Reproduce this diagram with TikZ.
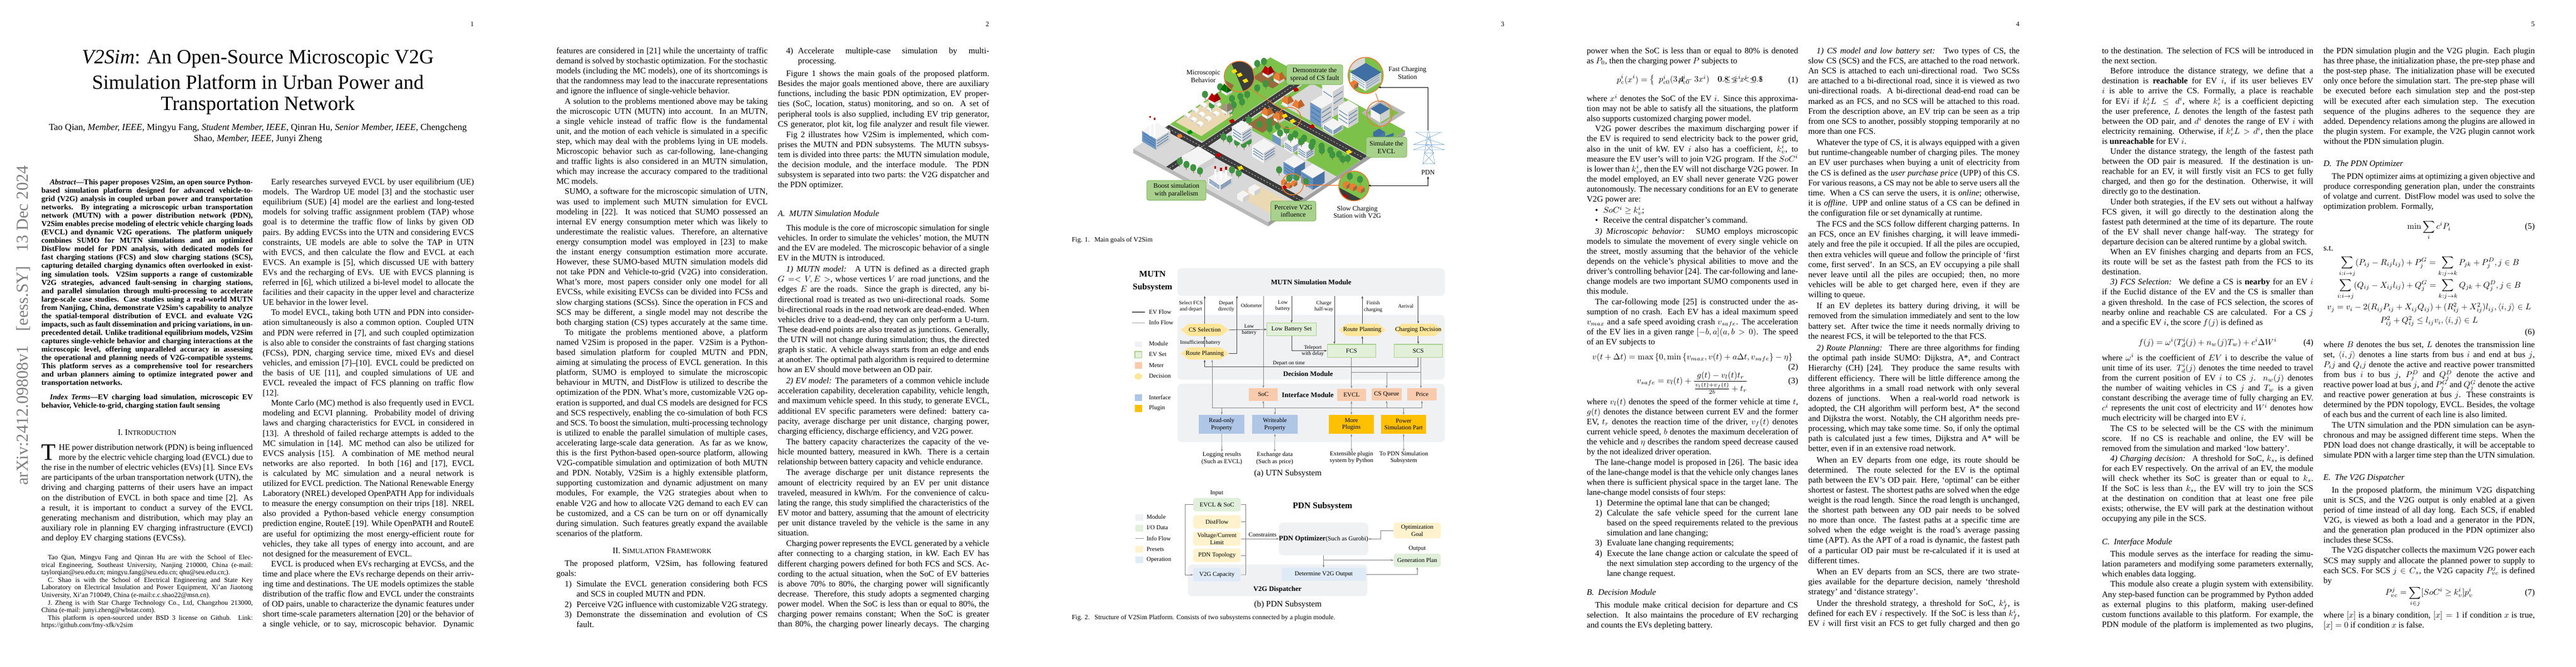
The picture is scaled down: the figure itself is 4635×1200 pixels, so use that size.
\documentclass[tikz,border=0pt]{standalone}
\usepackage[no-math]{fontspec}
\usepackage{amsmath}
\usetikzlibrary{arrows.meta,calc}
\setmainfont{Liberation Serif}
\hbadness=10000 \hfuzz=60pt \vfuzz=60pt \vbadness=10000 \overfullrule=0pt
\definecolor{panel}{HTML}{F0F1F3}
\definecolor{gfill}{HTML}{E2F0D9}
\definecolor{gline}{HTML}{A9D18E}
\definecolor{meter}{HTML}{F8CBAD}
\definecolor{deci}{HTML}{FFE699}
\definecolor{iface}{HTML}{AFC6E6}
\definecolor{plug}{HTML}{FFC000}
\definecolor{iogreen}{HTML}{E0EFD9}
\definecolor{preset}{HTML}{FFF2CC}
\definecolor{oper}{HTML}{DEEBF7}
\definecolor{goal}{HTML}{A9D18E}
\definecolor{goalb}{HTML}{70AD47}
\definecolor{orng}{HTML}{ED7D31}
\definecolor{grd}{HTML}{D8D8D8}
\definecolor{grdl}{HTML}{B8B8B8}
\definecolor{grdr}{HTML}{A0A0A0}
\definecolor{road}{HTML}{3C3C3C}
\definecolor{lawn}{HTML}{7CC24A}
\definecolor{lot}{HTML}{EBD9B4}
\definecolor{leaf}{HTML}{3E9440}
\definecolor{wall}{HTML}{F4F4F4}
\definecolor{walld}{HTML}{CFCFCF}
\definecolor{wblue}{HTML}{3F6FA3}
\definecolor{bwall}{HTML}{6E97C4}
\definecolor{bwalld}{HTML}{4C76A6}
\definecolor{tower}{HTML}{6FA3D6}
\definecolor{brownf}{HTML}{9A6A3C}
\definecolor{stampc}{HTML}{7F7F7F}
% text line macros
\newcommand\xj[1]{\hbox to\hsize{#1}}
\newcommand\xe[1]{\hbox to\hsize{#1\hfil}}
\newcommand\yj[1]{\hbox to\hsize{\hskip10pt #1}}
\newcommand\ye[1]{\hbox to\hsize{\hskip10pt #1\hfil}}
\newcommand\xh[2]{\hbox to\hsize{\hskip#1pt #2}}
\newcommand\xhe[2]{\hbox to\hsize{\hskip#1pt #2\hfil}}
\newcommand\xl[2]{\hbox to\hsize{\hskip10pt\hbox to14pt{#1\hfil}#2}}
\newcommand\xle[2]{\hbox to\hsize{\hskip10pt\hbox to14pt{#1\hfil}#2\hfil}}
\newcommand\xg[1]{\vskip #1\dimexpr0.2526pt\relax}
\newcommand\xq[2]{\hbox to\hsize{\rlap{\hbox to\hsize{\hfil #2}}\hfil$\displaystyle #1$\hfil}}
\newcommand\xc[1]{\hbox to\hsize{\hfil #1\hfil}}
\newcommand\colset{\hsize=251pt \baselineskip=11.946pt \lineskiplimit=-100pt \lineskip=0pt \parindent=0pt \parskip=0pt\relax}
% figure helpers
\newcommand\bx[7]{\pgfmathsetmacro\bxw{((#4)-(#2))*0.4}\pgfmathsetmacro\bxh{((#5)-(#3))*0.25258}%
  \node[#6,minimum width=\bxw pt,minimum height=\bxh pt,inner sep=0pt] (#1) at ({((#2)+(#4))/2},{((#3)+(#5))/2}) {#7};}
\newcommand\hx[5]{\fill[deci] (#2,#4) -- ({#2+24},{#4-29}) -- ({#3-24},{#4-29}) -- (#3,#4) -- ({#3-24},{#4+29}) -- ({#2+24},{#4+29}) -- cycle;
  \bx{#1}{#2}{#4-29}{#3}{#4+29}{lab7}{#5}}
\newcommand\bld[7]{%
 \fill[#6] ({#1-#3},{#2}) -- ({#1},{#2+.95*#3}) -- ({#1},{#2+.95*#3-#4}) -- ({#1-#3},{#2-#4}) -- cycle;
 \fill[#7] ({#1},{#2+.95*#3}) -- ({#1+#3},{#2}) -- ({#1+#3},{#2-#4}) -- ({#1},{#2+.95*#3-#4}) -- cycle;
 \fill[#5] ({#1-#3},{#2-#4}) -- ({#1},{#2+.95*#3-#4}) -- ({#1+#3},{#2-#4}) -- ({#1},{#2-.95*#3-#4}) -- cycle;}
\newcommand\win[5]{\foreach \ff in {.25,.5,.75}{
 \draw[#5,dash pattern=on 1.1pt off .7pt,line width=1pt] ({#1-.88*#3},{#2-#4*\ff}) -- ({#1-.08*#3},{#2+.84*#3-#4*\ff});
 \draw[#5,dash pattern=on 1.1pt off .7pt,line width=1pt] ({#1+.08*#3},{#2+.84*#3-#4*\ff}) -- ({#1+.88*#3},{#2-#4*\ff});}}
\newcommand\tr[2]{\draw[brownf,line width=.5pt] ({#1},{#2}) -- ({#1},{#2-12});
 \fill[leaf] ({#1},{#2-26}) ellipse (9 and 17);}
\newcommand\hs[3]{\bld{#1}{#2}{16}{14}{wall}{wall}{walld}
 \fill[#3] ({#1-19},{#2-14}) -- ({#1},{#2+2}) -- ({#1},{#2-30}) -- ({#1-8},{#2-42}) -- cycle;
 \fill[#3!80!black] ({#1},{#2+2}) -- ({#1+19},{#2-14}) -- ({#1+8},{#2-42}) -- ({#1},{#2-30}) -- cycle;}
\newcommand\car[3]{\fill[#3] ({#1-9},{#2-3}) -- ({#1+3},{#2-11}) -- ({#1+9},{#2+3}) -- ({#1-3},{#2+11}) -- cycle;}
\newcommand\ab[5]{\fill[#5] (#1,#2) -- (#3,#2) -- (#3,#4) -- (#1,#4) -- cycle;}
\tikzset{
 >={Stealth[length=3pt,width=2.3pt]},
 ev/.style={draw=black!72,line width=.55pt},
 info/.style={draw=black!48,line width=.45pt},
 pdnl/.style={draw=black!50,line width=.5pt},
 txt/.style={inner sep=0pt,outer sep=0pt,anchor=base west,font=\fontsize{10}{11.946}\selectfont},
 pnum/.style={inner sep=0pt,anchor=base east,font=\fontsize{8}{9}\selectfont},
 lab6/.style={font=\fontsize{6.3}{7.3}\selectfont,align=center,inner sep=0pt},
 lab7/.style={font=\fontsize{7.3}{8.4}\selectfont,align=center,inner sep=0pt},
 lab8/.style={font=\fontsize{8}{9.1}\selectfont,align=center,inner sep=0pt},
 bold8/.style={font=\fontsize{8.3}{10}\selectfont\bfseries,align=center,inner sep=0pt},
 bold10/.style={font=\fontsize{10.3}{12.3}\selectfont\bfseries,align=center,inner sep=0pt},
 cap8/.style={font=\fontsize{8}{9}\selectfont,anchor=west,inner sep=0pt},
 sub10/.style={font=\fontsize{10}{11}\selectfont,inner sep=0pt},
 pn/.style={fill=panel,rounded corners=5pt},
 gset/.style={lab7,fill=gfill,draw=gline,line width=.9pt},
 mtr/.style={lab7,fill=meter},
 ifc/.style={lab7,fill=iface},
 plg/.style={lab7,fill=plug},
 iog/.style={lab7,fill=iogreen,rounded corners=3pt},
 prs/.style={lab7,fill=preset,rounded corners=3pt},
 opr/.style={lab7,fill=oper},
 goalbox/.style={lab8,fill=goal,draw=goalb,line width=.5pt,rounded corners=2.5pt},
 mag/.style={draw=orng,line width=1pt},
}
\begin{document}
\begin{tikzpicture}[x=0.66pt,y=-0.66pt]
\useasboundingbox (0,0) rectangle (4635,1200);
\fill[white] (0,0) rectangle (4635,1200);
% ---------- page numbers
\node[pnum] (pg1) at (853,47) {1};
\node[pnum] (pg2) at (1780,47) {2};
\node[pnum] (pg3) at (2707,47) {3};
\node[pnum] (pg4) at (3634,47) {4};
\node[pnum] (pg5) at (4561,47) {5};
% ---------- stamp
\node[rotate=90,anchor=base,inner sep=0pt,text=stampc,font=\fontsize{20}{22}\selectfont] (stamp) at (50,586) {arXiv:2412.09808v1\hspace{.6em} [eess.SY]\hspace{.6em} 13 Dec 2024};
% ---------- page 1 title
\node[inner sep=0pt,font=\fontsize{24}{28}\selectfont] (t1) at (464,106) {\textit{V2Sim}: An Open-Source Microscopic V2G};
\node[inner sep=0pt,font=\fontsize{24}{28}\selectfont] (t2) at (464,148) {Simulation Platform in Urban Power and};
\node[inner sep=0pt,font=\fontsize{24}{28}\selectfont] (t3) at (464,190) {Transportation Network};
\node[inner sep=0pt,font=\fontsize{11}{13}\selectfont] (a1) at (464,231) {Tao Qian, \textit{Member, IEEE}, Mingyu Fang, \textit{Student Member, IEEE}, Qinran Hu, \textit{Senior Member, IEEE}, Chengcheng};
\node[inner sep=0pt,font=\fontsize{11}{13}\selectfont] (a2) at (464,251) {Shao, \textit{Member, IEEE}, Junyi Zheng};
% ---------- page 1 left
\node[txt,font=\fontsize{9}{10}\selectfont\bfseries] (p1abs) at (74.6,332.5) {\vtop{\colset\baselineskip=9.93pt
\hbox to\hsize{\hskip10pt\textit{Abstract}---This paper proposes V2Sim, an open source Python-}
\xj{based simulation platform designed for advanced vehicle-to-}
\xj{grid (V2G) analysis in coupled urban power and transportation}
\xj{networks. By integrating a microscopic urban transportation}
\xj{network (MUTN) with a power distribution network (PDN),}
\xj{V2Sim enables precise modeling of electric vehicle charging loads}
\xj{(EVCL) and dynamic V2G operations. The platform uniquely}
\xj{combines SUMO for MUTN simulations and an optimized}
\xj{DistFlow model for PDN analysis, with dedicated models for}
\xj{fast charging stations (FCS) and slow charging stations (SCS),}
\xj{capturing detailed charging dynamics often overlooked in exist-}
\xj{ing simulation tools. V2Sim supports a range of customizable}
\xj{V2G strategies, advanced fault-sensing in charging stations,}
\xj{and parallel simulation through multi-processing to accelerate}
\xj{large-scale case studies. Case studies using a real-world MUTN}
\xj{from Nanjing, China, demonstrate V2Sim's capability to analyze}
\xj{the spatial-temporal distribution of EVCL and evaluate V2G}
\xj{impacts, such as fault dissemination and pricing variations, in un-}
\xj{precedented detail. Unlike traditional equilibrium models, V2Sim}
\xj{captures single-vehicle behavior and charging interactions at the}
\xj{microscopic level, offering unparalleled accuracy in assessing}
\xj{the operational and planning needs of V2G-compatible systems.}
\xj{This platform serves as a comprehensive tool for researchers}
\xj{and urban planners aiming to optimize integrated power and}
\xe{transportation networks.}
}};
\node[txt,font=\fontsize{9}{10}\selectfont\bfseries] (p1idx) at (74.6,719) {\vtop{\colset\baselineskip=9.93pt
\yj{\textit{Index Terms}---EV charging load simulation, microscopic EV}
\xe{behavior, Vehicle-to-grid, charging station fault sensing}
}};
\node[txt] (p1sec) at (74.6,783.5) {\vtop{\colset\xc{I. I{\fontsize{8}{9}\selectfont NTRODUCTION}}}};
\node[txt] (p1body) at (74.6,810.5) {\vtop{\colset
\hbox to\hsize{\rlap{\raisebox{-11.95pt}{\fontsize{28}{28}\selectfont T}}\hskip20.6pt HE power distribution network (PDN) is being influenced}
\xh{20.6}{more by the electric vehicle charging load (EVCL) due to}
\xj{the rise in the number of electric vehicles (EVs) [1]. Since EVs}
\xj{are participants of the urban transportation network (UTN), the}
\xj{driving and charging patterns of their users have an impact}
\xj{on the distribution of EVCL in both space and time [2]. As}
\xj{a result, it is important to conduct a survey of the EVCL}
\xj{generating mechanism and distribution, which may play an}
\xj{auxiliary role in planning EV charging infrastructure (EVCI)}
\xe{and deploy EV charging stations (EVCSs).}
}};
\node[txt,font=\fontsize{8}{9}\selectfont] (p1fn) at (74.6,1007.5) {\vtop{\colset\baselineskip=8.97pt
\xh{7.6}{Tao Qian, Mingyu Fang and Qinran Hu are with the School of Elec-}
\xj{trical Engineering, Southeast University, Nanjing 210000, China (e-mail:}
\xe{taylorqian@seu.edu.cn; mingyu.fang@seu.edu.cn; qhu@seu.edu.cn;).}
\xh{7.6}{C. Shao is with the School of Electrical Engineering and State Key}
\xj{Laboratory on Electrical Insulation and Power Equipment, Xi'an Jiaotong}
\xe{University, Xi'an 710049, China (e-mail:c.c.shao22@msn.cn).}
\xh{7.6}{J. Zheng is with Star Charge Technology Co., Ltd, Changzhou 213000,}
\xe{China (e-mail: junyi.zheng@wbstar.com).}
\xh{7.6}{This platform is open-sourced under BSD 3 license on Github. Link:}
\xe{https://github.com/fmy-xfk/v2sim}
}};
% ---------- page 1 right
\node[txt] (p1r) at (472.6,332.5) {\vtop{\colset
\yj{Early researches surveyed EVCL by user equilibrium (UE)}
\xj{models. The Wardrop UE model [3] and the stochastic user}
\xj{equilibrium (SUE) [4] model are the earliest and long-tested}
\xj{models for solving traffic assignment problem (TAP) whose}
\xj{goal is to determine the traffic flow of links by given OD}
\xj{pairs. By adding EVCSs into the UTN and considering EVCS}
\xj{constraints, UE models are able to solve the TAP in UTN}
\xj{with EVCS, and then calculate the flow and EVCL at each}
\xj{EVCS. An example is [5], which discussed UE with battery}
\xj{EVs and the recharging of EVs. UE with EVCS planning is}
\xj{referred in [6], which utilized a bi-level model to allocate the}
\xj{facilities and their capacity in the upper level and characterize}
\xe{UE behavior in the lower level.}
\yj{To model EVCL, taking both UTN and PDN into consider-}
\xj{ation simultaneously is also a common option. Coupled UTN}
\xj{and PDN were referred in [7], and such coupled optimization}
\xj{is also able to consider the constraints of fast charging stations}
\xj{(FCSs), PDN, charging service time, mixed EVs and diesel}
\xj{vehicles, and emission [7]--[10]. EVCL could be predicted on}
\xj{the basis of UE [11], and coupled simulations of UE and}
\xj{EVCL revealed the impact of FCS planning on traffic flow}
\xe{[12].}
\yj{Monte Carlo (MC) method is also frequently used in EVCL}
\xj{modeling and ECVI planning. Probability model of driving}
\xj{laws and charging characteristics for EVCL in considered in}
\xj{[13]. A threshold of failed recharge attempts is added to the}
\xj{MC simulation in [14]. MC method can also be utilized for}
\xj{EVCS analysis [15]. A combination of ME method neural}
\xj{networks are also reported. In both [16] and [17], EVCL}
\xj{is calculated by MC simulation and a neural network is}
\xj{utilized for EVCL prediction. The National Renewable Energy}
\xj{Laboratory (NREL) developed OpenPATH App for individuals}
\xj{to measure the energy consumption on their trips [18]. NREL}
\xj{also provided a Python-based vehicle energy consumption}
\xj{prediction engine, RouteE [19]. While OpenPATH and RouteE}
\xj{are useful for optimizing the most energy-efficient route for}
\xj{vehicles, they take all types of energy into account, and are}
\xe{not designed for the measurement of EVCL.}
\yj{EVCL is produced when EVs recharging at EVCSs, and the}
\xj{time and place where the EVs recharge depends on their arriv-}
\xj{ing time and destinations. The UE models optimizes the stable}
\xj{distribution of the traffic flow and EVCL under the constraints}
\xj{of OD pairs, unable to characterize the dynamic features under}
\xj{short time-scale parameters alternation [20] or the behavior of}
\xj{a single vehicle, or to say, microscopic behavior. Dynamic}
}};
% ---------- page 2 left
\node[txt] (p2l) at (1001,96.5) {\vtop{\colset
\xj{features are considered in [21] while the uncertainty of traffic}
\xj{demand is solved by stochastic optimization. For the stochastic}
\xj{models (including the MC models), one of its shortcomings is}
\xj{that the randomness may lead to the inaccurate representations}
\xe{and ignore the influence of single-vehicle behavior.}
\yj{A solution to the problems mentioned above may be taking}
\xj{the microscopic UTN (MUTN) into account. In an MUTN,}
\xj{a single vehicle instead of traffic flow is the fundamental}
\xj{unit, and the motion of each vehicle is simulated in a specific}
\xj{step, which may deal with the problems lying in UE models.}
\xj{Microscopic behavior such as car-following, lane-changing}
\xj{and traffic lights is also considered in an MUTN simulation,}
\xj{which may increase the accuracy compared to the traditional}
\xe{MC models.}
\yj{SUMO, a software for the microscopic simulation of UTN,}
\xj{was used to implement such MUTN simulation for EVCL}
\xj{modeling in [22]. It was noticed that SUMO possessed an}
\xj{internal EV energy consumption meter which was likely to}
\xj{underestimate the realistic values. Therefore, an alternative}
\xj{energy consumption model was employed in [23] to make}
\xj{the instant energy consumption estimation more accurate.}
\xj{However, these SUMO-based MUTN simulation models did}
\xj{not take PDN and Vehicle-to-grid (V2G) into consideration.}
\xj{What's more, most papers consider only one model for all}
\xj{EVCSs, while exisiting EVCSs can be divided into FCSs and}
\xj{slow charging stations (SCSs). Since the operation in FCS and}
\xj{SCS may be different, a single model may not describe the}
\xj{both charging station (CS) types accurately at the same time.}
\yj{To mitigate the problems mentioned above, a platform}
\xj{named V2Sim is proposed in the paper. V2Sim is a Python-}
\xj{based simulation platform for coupled MUTN and PDN,}
\xj{aiming at simulating the process of EVCL generation. In this}
\xj{platform, SUMO is employed to simulate the microscopic}
\xj{behaviour in MUTN, and DistFlow is utilized to describe the}
\xj{optimization of the PDN. What's more, customizable V2G op-}
\xj{eration is supported, and dual CS models are designed for FCS}
\xj{and SCS respectively, enabling the co-simulation of both FCS}
\xj{and SCS. To boost the simulation, multi-processing technology}
\xj{is utilized to enable the parallel simulation of multiple cases,}
\xj{accelerating large-scale data generation. As far as we know,}
\xj{this is the first Python-based open-source platform, allowing}
\xj{V2G-compatible simulation and optimization of both MUTN}
\xj{and PDN. Notably, V2Sim is a highly extensible platform,}
\xj{supporting customization and dynamic adjustment on many}
\xj{modules, For example, the V2G strategies about when to}
\xj{enable V2G and how to allocate V2G demand to each EV can}
\xj{be customized, and a CS can be turn on or off dynamically}
\xj{during simulation. Such features greatly expand the available}
\xe{scenarios of the platform.}
\xg{35}\xc{II. S{\fontsize{8}{9}\selectfont IMULATION} F{\fontsize{8}{9}\selectfont RAMEWORK}}
\xg{11}\yj{The proposed platform, V2Sim, has following featured}
\xe{goals:}
\xg{4}\xl{1)}{Simulate the EVCL generation considering both FCS}
\xhe{24}{and SCS in coupled MUTN and PDN.}
\xl{2)}{Perceive V2G influence with customizable V2G strategy.}
\xl{3)}{Demonstrate the dissemination and evolution of CS}
\xhe{24}{fault.}
}};
% ---------- page 2 right
\node[txt] (p2r) at (1399.5,96.5) {\vtop{\colset
\xl{4)}{Accelerate multiple-case simulation by multi-}
\xhe{24}{processing.}
\xg{13}\yj{Figure 1 shows the main goals of the proposed platform.}
\xj{Besides the major goals mentioned above, there are auxiliary}
\xj{functions, including the basic PDN optimization, EV proper-}
\xj{ties (SoC, location, status) monitoring, and so on. A set of}
\xj{peripheral tools is also supplied, including EV trip generator,}
\xj{CS generator, plot kit, log file analyzer and result file viewer.}
\xg{2}\yj{Fig 2 illustrates how V2Sim is implemented, which com-}
\xj{prises the MUTN and PDN subsystems. The MUTN subsys-}
\xj{tem is divided into three parts: the MUTN simulation module,}
\xj{the decision module, and the interface module. The PDN}
\xj{subsystem is separated into two parts: the V2G dispatcher and}
\xe{the PDN optimizer.}
\xg{88}\xe{\textit{A. \ MUTN Simulation Module}}
\xg{21}\yj{This module is the core of microscopic simulation for single}
\xj{vehicles. In order to simulate the vehicles' motion, the MUTN}
\xj{and the EV are modeled. The microscopic behavior of a single}
\xe{EV in the MUTN is introduced.}
\xg{5}\yj{\textit{1) MUTN model:} \ A UTN is defined as a directed graph}
\xj{$G=<V,E>$, whose vertices $V$ are road junctions, and the}
\xj{edges $E$ are the roads. Since the graph is directed, any bi-}
\xj{directional road is treated as two uni-directional roads. Some}
\xj{bi-directional roads in the road network are dead-ended. When}
\xj{vehicles drive to a dead-end, they can only perform a U-turn.}
\xj{These dead-end points are also treated as junctions. Generally,}
\xj{the UTN will not change during simulation; thus, the directed}
\xj{graph is static. A vehicle always starts from an edge and ends}
\xj{at another. The optimal path algorithm is required to determine}
\xe{how an EV should move between an OD pair.}
\xg{5}\yj{\textit{2) EV model:} The parameters of a common vehicle include}
\xj{acceleration capability, deceleration capability, vehicle length,}
\xj{and maximum vehicle speed. In this study, to generate EVCL,}
\xj{additional EV specific parameters were defined: battery ca-}
\xj{pacity, average discharge per unit distance, charging power,}
\xe{charging efficiency, discharge efficiency, and V2G power.}
\xg{3}\yj{The battery capacity characterizes the capacity of the ve-}
\xj{hicle mounted battery, measured in kWh. There is a certain}
\xe{relationship between battery capacity and vehicle endurance.}
\xg{3}\yj{The average discharge per unit distance represents the}
\xj{amount of electricity required by an EV per unit distance}
\xj{traveled, measured in kWh/m. For the convenience of calcu-}
\xj{lating the range, this study simplified the characteristics of the}
\xj{EV motor and battery, assuming that the amount of electricity}
\xj{per unit distance traveled by the vehicle is the same in any}
\xe{situation.}
\xg{3}\yj{Charging power represents the EVCL generated by a vehicle}
\xj{after connecting to a charging station, in kW. Each EV has}
\xj{different charging powers defined for both FCS and SCS. Ac-}
\xj{cording to the actual situation, when the SoC of EV batteries}
\xj{is above 70\% to 80\%, the charging power will significantly}
\xj{decrease. Therefore, this study adopts a segmented charging}
\xj{power model. When the SoC is less than or equal to 80\%, the}
\xj{charging power remains constant; When the SoC is greater}
\xj{than 80\%, the charging power linearly decays. The charging}
}};
% ---------- page 4 left
\node[txt] (p4l) at (2855,96.5) {\vtop{\colset
\xj{power when the SoC is less than or equal to 80\% is denoted}
\xe{as $P_0$, then the charging power $P$ subjects to}
\xg{40}\xq{p_c^i(x^i)=\left\{\begin{array}{cc}p_{c0}^i & 0\le x^i<0.8\\ p_{c0}^i(3.4-3x^i) & 0.8\le x^i\le 1\end{array}\right.}{(1)}
\xg{43}\xj{where $x^i$ denotes the SoC of the EV $i$. Since this approxima-}
\xj{tion may not be able to satisfy all the situations, the platform}
\xe{also supports customized charging power model.}
\yj{V2G power describes the maximum discharging power if}
\xj{the EV is required to send electricity back to the power grid,}
\xj{also in the unit of kW. EV $i$ also has a coefficient, $k_v^i$, to}
\xj{measure the EV user's will to join V2G program. If the $SoC^i$}
\xj{is lower than $k_v^i$, then the EV will not discharge V2G power. In}
\xj{the model employed, an EV shall never generate V2G power}
\xj{autonomously. The necessary conditions for an EV to generate}
\xe{V2G power are:}
\xg{5}\xhe{10}{\hbox to7pt{\textbullet\hfil}\ $SoC^i\ge k_v^i$;}
\xhe{10}{\hbox to7pt{\textbullet\hfil}\ Receive the central dispatcher's command.}
\xg{4}\yj{\textit{3) Microscopic behavior:} \ SUMO employs microscopic}
\xj{models to simulate the movement of every single vehicle on}
\xj{the street, mostly assuming that the behavior of the vehicle}
\xj{depends on the vehicle's physical abilities to move and the}
\xj{driver's controlling behavior [24]. The car-following and lane-}
\xj{change models are two important SUMO components used in}
\xe{this module.}
\yj{The car-following mode [25] is constructed under the as-}
\xj{sumption of no crash. Each EV has a ideal maximum speed}
\xj{$v_{max}$ and a safe speed avoiding crash $v_{safe}$. The acceleration}
\xj{of the EV lies in a given range $[-b,a](a,b>0)$. The speed}
\xe{of an EV subjects to}
\xg{23}\xc{$\displaystyle v(t+\Delta t)=\max\left\{0,\min\left\{v_{max},v(t)+a\Delta t,v_{safe}\right\}-\eta\right\}$}
\xg{1}\hbox to\hsize{\hfil(2)}
\xg{17}\xq{v_{safe}=v_l(t)+\frac{g(t)-v_l(t)t_r}{\frac{v_l(t)+v_f(t)}{2b}+t_r}}{(3)}
\xg{52}\xj{where $v_l(t)$ denotes the speed of the former vehicle at time $t$,}
\xj{$g(t)$ denotes the distance between current EV and the former}
\xj{EV, $t_r$ denotes the reaction time of the driver, $v_f(t)$ denotes}
\xj{current vehicle speed, $b$ denotes the maximum deceleration of}
\xj{the vehicle and $\eta$ describes the random speed decrease caused}
\xe{by the not idealized driver operation.}
\yj{The lane-change model is proposed in [26]. The basic idea}
\xj{of the lane-change model is that the vehicle only changes lanes}
\xj{when there is sufficient physical space in the target lane. The}
\xe{lane-change model consists of four steps:}
\xg{3}\xle{1)}{Determine the optimal lane that can be changed;}
\xl{2)}{Calculate the safe vehicle speed for the current lane}
\xh{24}{based on the speed requirements related to the previous}
\xhe{24}{simulation and lane changing;}
\xle{3)}{Evaluate lane changing requirements;}
\xl{4)}{Execute the lane change action or calculate the speed of}
\xh{24}{the next simulation step according to the urgency of the}
\xhe{24}{lane change request.}
\xg{43}\xe{\textit{B. \ Decision Module}}
\xg{11}\yj{This module make critical decision for departure and CS}
\xj{selection. It also maintains the procedure of EV recharging}
\xe{and counts the EVs depleting battery.}
}};
% ---------- page 4 right
\node[txt] (p4r) at (3253.5,96.5) {\vtop{\colset
\yj{\textit{1) CS model and low battery set:} \ Two types of CS, the}
\xj{slow CS (SCS) and the FCS, are attached to the road network.}
\xj{An SCS is attached to each uni-directional road. Two SCSs}
\xj{are attached to a bi-directional road, since it is viewed as two}
\xj{uni-directional roads. A bi-directional dead-end road can be}
\xj{marked as an FCS, and no SCS will be attached to this road.}
\xj{From the description above, an EV trip can be seen as a trip}
\xj{from one SCS to another, possibly stopping temporarily at no}
\xe{more than one FCS.}
\xg{6}\yj{Whatever the type of CS, it is always equipped with a given}
\xj{but runtime-changeable number of charging piles. The money}
\xj{an EV user purchases when buying a unit of electricity from}
\xj{the CS is defined as the \textit{user purchase price} (UPP) of this CS.}
\xj{For various reasons, a CS may not be able to serve users all the}
\xj{time. When a CS can serve the users, it is \textit{online}; otherwise,}
\xj{it is \textit{offline}. UPP and online status of a CS can be defined in}
\xe{the configuration file or set dynamically at runtime.}
\xg{6}\yj{The FCS and the SCS follow different charging patterns. In}
\xj{an FCS, once an EV finishes charging, it will leave immedi-}
\xj{ately and free the pile it occupied. If all the piles are occupied,}
\xj{then extra vehicles will queue and follow the principle of `first}
\xj{come, first served'. In an SCS, an EV occupying a pile shall}
\xj{never leave until all the piles are occupied; then, no more}
\xj{vehicles will be able to get charged here, even if they are}
\xe{willing to queue.}
\xg{6}\yj{If an EV depletes its battery during driving, it will be}
\xj{removed from the simulation immediately and sent to the low}
\xj{battery set. After twice the time it needs normally driving to}
\xe{the nearest FCS, it will be teleported to the that FCS.}
\xg{9}\yj{\textit{2) Route Planning:} \ There are three algorithms for finding}
\xj{the optimal path inside SUMO: Dijkstra, A*, and Contract}
\xj{Hierarchy (CH) [24]. They produce the same results with}
\xj{different efficiency. There will be little difference among the}
\xj{three algorithms in a small road network with only several}
\xj{dozens of junctions. When a real-world road network is}
\xj{adopted, the CH algorithm will perform best, A* the second}
\xj{and Dijkstra the worst. Notably, the CH algorithm needs pre-}
\xj{processing, which may take some time. So, if only the optimal}
\xj{path is calculated just a few times, Dijkstra and A* will be}
\xe{better, even if in an extensive road network.}
\xg{6}\yj{When an EV departs from one edge, its route should be}
\xj{determined. The route selected for the EV is the optimal}
\xj{path between the EV's OD pair. Here, `optimal' can be either}
\xj{shortest or fastest. The shortest paths are solved when the edge}
\xj{weight is the road length. Since the road length is unchanged,}
\xj{the shortest path between any OD pair needs to be solved}
\xj{no more than once. The fastest paths at a specific time are}
\xj{solved when the edge weight is the road's average passing}
\xj{time (APT). As the APT of a road is dynamic, the fastest path}
\xj{of a particular OD pair must be re-calculated if it is used at}
\xe{different times.}
\xg{6}\yj{When an EV departs from an SCS, there are two strate-}
\xj{gies available for the departure decision, namely `threshold}
\xe{strategy' and `distance strategy'.}
\xg{7}\yj{Under the threshold strategy, a threshold for SoC, $k_f^i$, is}
\xj{defined for each EV $i$ respectively. If the SoC is less than $k_f^i$,}
\xj{EV $i$ will first visit an FCS to get fully charged and then go}
}};
% ---------- page 5 left
\node[txt] (p5l) at (3782,96.5) {\vtop{\colset
\xj{to the destination. The selection of FCS will be introduced in}
\xe{the next section.}
\yj{Before introduce the distance strategy, we define that a}
\xj{destination is \textbf{reachable} for EV $i$, if its user believes EV}
\xj{$i$ is able to arrive the CS. Formally, a place is reachable}
\xj{for EV$i$ if $k_r^iL\le d^i$, where $k_r^i$ is a coefficient depicting}
\xj{the user preference, $L$ denotes the length of the fastest path}
\xj{between the OD pair, and $d^i$ denotes the range of EV $i$ with}
\xj{electricity remaining. Otherwise, if $k_r^iL>d^i$, then the place}
\xe{is \textbf{unreachable} for EV $i$.}
\yj{Under the distance strategy, the length of the fastest path}
\xj{between the OD pair is measured. If the destination is un-}
\xj{reachable for an EV, it will firstly visit an FCS to get fully}
\xj{charged, and then go for the destination. Otherwise, it will}
\xe{directly go to the destination.}
\yj{Under both strategies, if the EV sets out without a halfway}
\xj{FCS given, it will go directly to the destination along the}
\xj{fastest path determined at the time of its departure. The route}
\xj{of the EV shall never change half-way. The strategy for}
\xe{departure decision can be altered runtime by a global switch.}
\yj{When an EV finishes charging and departs from an FCS,}
\xj{its route will be set as the fastest path from the FCS to its}
\xe{destination.}
\yj{\textit{3) FCS Selection:} \ We define a CS is \textbf{nearby} for an EV $i$}
\xj{if the Euclid distance of the EV and the CS is smaller than}
\xj{a given threshold. In the case of FCS selection, the scores of}
\xj{nearby online and reachable CS are calculated. For a CS $j$}
\xe{and a specific EV $i$, the score $f(j)$ is defined as}
\xg{48}\xq{f(j)=\omega^i(T_d^i(j)+n_w(j)T_w)+c^i\Delta W^i}{(4)}
\xg{25}\xj{where $\omega^i$ is the coefficient of $EV$ i to describe the value of}
\xj{unit time of its user. $T_d^i(j)$ denotes the time needed to travel}
\xj{from the current position of EV $i$ to CS $j$. $n_w(j)$ denotes}
\xj{the number of waiting vehicles in CS $j$ and $T_w$ is a given}
\xj{constant describing the average time of fully charging an EV.}
\xj{$c^i$ represents the unit cost of electricity and $W^i$ denotes how}
\xe{much electricity will be charged into EV $i$.}
\yj{The CS to be selected will be the CS with the minimum}
\xj{score. If no CS is reachable and online, the EV will be}
\xe{removed from the simulation and marked `low battery'.}
\yj{\textit{4) Charging decision:} \ A threshold for SoC, $k_s$, is defined}
\xj{for each EV respectively. On the arrival of an EV, the module}
\xj{will check whether its SoC is greater than or equal to $k_s$.}
\xj{If the SoC is less than $k_s$, the EV will try to join the SCS}
\xj{at the destination on condition that at least one free pile}
\xj{exists; otherwise, the EV will park at the destination without}
\xe{occupying any pile in the SCS.}
\xg{60}\xe{\textit{C. \ Interface Module}}
\xg{12}\yj{This module serves as the interface for reading the simu-}
\xj{lation parameters and modifying some parameters externally,}
\xe{which enables data logging.}
\yj{This module also create a plugin system with extensibility.}
\xj{Any step-based function can be programmed by Python added}
\xj{as external plugins to this platform, making user-defined}
\xj{custom functions available to this platform. For example, the}
\xj{PDN module of the platform is implemented as two plugins,}
}};
% ---------- page 5 right
\node[txt] (p5r) at (4180.5,96.5) {\vtop{\colset
\xj{the PDN simulation plugin and the V2G plugin. Each plugin}
\xj{has three phase, the initialization phase, the pre-step phase and}
\xj{the post-step phase. The initialization phase will be executed}
\xj{only once before the simulation start. The pre-step phase will}
\xj{be executed before each simulation step and the post-step}
\xj{will be executed after each simulation step. The execution}
\xj{sequence of the plugins adheres to the sequence they are}
\xj{added. Dependency relations among the plugins are allowed in}
\xj{the plugin system. For example, the V2G plugin cannot work}
\xe{without the PDN simulation plugin.}
\xg{58}\xe{\textit{D. \ The PDN Optimizer}}
\xg{11}\yj{The PDN optimizer aims at optimizing a given objective and}
\xj{produce corresponding generation plan, under the constraints}
\xj{of volatge and current. DistFlow model was used to solve the}
\xe{optimization problem. Formally,}
\xg{48}\xq{\min\sum_i c^iP_i}{(5)}
\xg{53}\xe{s.t.}
\xg{21}\xc{$\displaystyle\sum_{i:i\to j}(P_{ij}-R_{ij}l_{ij})+P_j^G=\sum_{k:j\to k}P_{jk}+P_j^D,j\in B$}
\xg{60}\xc{$\displaystyle\sum_{i:i\to j}(Q_{ij}-X_{ij}l_{ij})+Q_j^G=\sum_{k:j\to k}Q_{jk}+Q_j^D,j\in B$}
\xg{56}\xc{$v_j=v_i-2(R_{ij}P_{ij}+X_{ij}Q_{ij})+(R_{ij}^2+X_{ij}^2)l_{ij},\langle i,j\rangle\in L$}
\xg{15}\xc{$P_{ij}^2+Q_{ij}^2\le l_{ij}v_i,\langle i,j\rangle\in L$}
\xg{8}\hbox to\hsize{\hfil(6)}
\xg{11}\xj{where $B$ denotes the bus set, $L$ denotes the transmission line}
\xj{set, $\langle i,j\rangle$ denotes a line starts from bus $i$ and end at bus $j$,}
\xj{$P_ij$ and $Q_ij$ denote the active and reactive power transmitted}
\xj{from bus $i$ to bus $j$, $P_j^D$ and $Q_j^D$ denote the active and}
\xj{reactive power load at bus $j$, and $P_j^G$ and $Q_j^G$ denote the active}
\xj{and reactive power generation at bus $j$. These constraints is}
\xj{determined by the PDN topology, EVCL. Besides, the voltage}
\xe{of each bus and the current of each line is also limited.}
\yj{The UTN simulation and the PDN simulation can be asyn-}
\xj{chronous and may be assigned different time steps. When the}
\xj{PDN load does not change drastically, it will be acceptable to}
\xe{simulate PDN with a larger time step than the UTN simulation.}
\xg{58}\xe{\textit{E. \ The V2G Dispatcher}}
\xg{12}\yj{In the proposed platform, the minimum V2G dispatching}
\xj{unit is SCS, and the V2G output is only enabled at a given}
\xj{period of time instead of all day long. Each SCS, if enabled}
\xj{V2G, is viewed as both a load and a generator in the PDN,}
\xj{and the generation plan produced in the PDN optimizer also}
\xe{includes these SCSs.}
\yj{The V2G dispatcher collects the maximum V2G power each}
\xj{SCS may supply and allocate the planned power to supply to}
\xj{each SCS. For SCS $j\in C_s$, the V2G capacity $P_{vc}^j$ is defined}
\xe{by}
\xg{9}\xq{P_{vc}^j=\sum_{i\in j}[SoC^i\ge k_v^i]p_v^i}{(7)}
\xg{58}\xj{where $[x]$ is a binary condition, $[x]=1$ if condition $x$ is true,}
\xe{$[x]=0$ if condition $x$ is false.}
}};
% ========== page 3 figures
\begin{scope}[shift={(1850,0)},x=0.4pt,y=-0.25258pt]
% --- Fig 1 scene
\fill[grdl] (312,700) -- (712,1045) -- (712,1065) -- (312,720) -- cycle;
\fill[grdr] (712,1045) -- (1119,615) -- (1119,635) -- (712,1065) -- cycle;
\begin{scope}[shift={(312,700)},x={(162.8pt,108.6pt)},y={(160pt,-87.14pt)}]
 \ab{0}{0}{1}{1}{grd}
 \ab{.27}{0}{1}{.24}{lawn}
 \ab{.30}{.01}{.53}{.2}{lot}
 \ab{.5}{.3}{.67}{1}{lawn}
 \ab{.73}{.3}{1}{1}{lawn}
 \ab{.75}{.33}{.98}{.62}{grd}
 \ab{.06}{.72}{.19}{.98}{lot}
 \ab{.215}{0}{.26}{1}{road}
 \ab{0}{.245}{.93}{.29}{road}
 \ab{.675}{.27}{.725}{1}{road}
 \draw[white,line width=.35pt,dash pattern=on 2pt off 2pt] (.2375,0) -- (.2375,1);
 \draw[white,line width=.35pt,dash pattern=on 2pt off 2pt] (0,.2675) -- (.93,.2675);
 \draw[white,line width=.35pt,dash pattern=on 2pt off 2pt] (.70,.29) -- (.70,1);
 \ab{.52}{.32}{.66}{.43}{brownf}
 \ab{.82}{.05}{.93}{.2}{brownf}
\end{scope}
% lot vans
\foreach \i in {0,1,2,3}{\foreach \j in {0,1,2}{\bld{472+24*\i+19*\j}{547-24*\i+20*\j}{10}{9}{white}{walld}{wall}}}
% back trees and houses
\foreach \p/\q in {650/470,630/480,605/490,585/540,610/520,635/505,680/325,700/315,705/420,680/440,730/395,525/470,570/435,545/520,600/545}{\tr{\p}{\q}}
\hs{590}{435}{green!45!black}
\hs{553}{480}{red!75!black}
\hs{590}{525}{lot!70!black}
\hs{712}{352}{red!75!black}
\hs{745}{380}{orng}
\hs{770}{490}{orng}
\hs{802}{510}{orng}
\hs{710}{545}{orng}
\hs{745}{565}{orng}
% tall buildings
\bld{905}{520}{32}{120}{wall}{wall}{walld}\win{905}{520}{32}{120}{wblue}
\bld{870}{570}{33}{90}{wall}{bwall}{walld}\win{870}{570}{33}{90}{wblue}
\bld{950}{575}{30}{75}{wall}{wall}{walld}\win{950}{575}{30}{75}{wblue}
\bld{905}{610}{30}{25}{wall}{wall}{walld}\win{905}{610}{30}{25}{wblue}
% fast CS plot
\fill[grdl] (990,530) -- (1050,470) -- (1120,530) -- (1050,600) -- cycle;
\fill[lawn] (1005,530) -- (1050,490) -- (1100,530) -- (1050,580) -- cycle;
\bld{1045}{550}{28}{38}{wblue}{wall}{walld}
\bld{1042}{640}{18}{18}{wblue}{wblue}{bwalld}
\fill[wblue] (1060,640) -- (1085,625) -- (1085,640) -- (1060,650) -- cycle;
% left factories
\bld{380}{665}{42}{50}{wall}{bwall}{walld}\win{380}{665}{42}{50}{wblue}
\foreach \p/\q in {362/545,375/555}{\fill[white] ({\p-2},\q) rectangle ({\p+2},640);\fill[red!70!black] ({\p-2},\q) rectangle ({\p+2},{\q+10});}
\bld{505}{765}{50}{30}{wall}{wall}{walld}
\bld{570}{865}{36}{28}{wall}{wall}{walld}\win{570}{865}{36}{28}{wblue}
\foreach \p/\q in {555/780,572/790,587/785}{\fill[white] ({\p-3},\q) rectangle ({\p+3},845);\fill[red!70!black] ({\p-3},\q) rectangle ({\p+3},{\q+14});}
\bld{672}{905}{18}{22}{wall}{wall}{walld}
\bld{638}{935}{18}{22}{wall}{wall}{walld}
\foreach \p/\q in {450/785,470/800,490/815,510/830,580/670,598/680,620/695,640/705,655/690,605/825,625/840}{\tr{\p}{\q}}
% middle buildings and tree rows
\bld{635}{650}{30}{55}{wall}{wall}{walld}\win{635}{650}{30}{55}{wblue}
\bld{700}{735}{35}{50}{wall}{wall}{walld}\win{700}{735}{35}{50}{wblue}
\bld{750}{665}{25}{35}{wall}{bwall}{walld}
\bld{785}{700}{25}{35}{wall}{wall}{walld}\win{785}{700}{25}{35}{wblue}
\bld{825}{730}{25}{40}{wall}{wall}{walld}\win{825}{730}{25}{40}{wblue}
\foreach \i in {0,...,9}{\tr{655+31*\i}{590+20.5*\i}\tr{715+26*\i}{600+19*\i}}
\bld{790}{815}{32}{55}{wall}{bwall}{bwalld}\win{790}{815}{32}{55}{wblue}
\bld{845}{860}{35}{55}{wall}{bwall}{bwalld}\win{845}{860}{35}{55}{wblue}
\foreach \p/\q in {745/825,775/865,797/860,825/880}{\tr{\p}{\q}}
\foreach \p/\q in {775/880,790/870,760/865}{\bld{\p}{\q}{9}{14}{orng}{orng}{brownf}}
% cars
\car{605}{570}{red!75!black}\car{480}{622}{green!55!black}\car{565}{730}{red!75!black}\car{630}{790}{yellow!80!orange}
\car{760}{882}{red!75!black}\car{842}{595}{red!75!black}\car{952}{715}{yellow!80!orange}\car{795}{422}{red!75!black}\car{450}{640}{orng}
\car{762}{545}{yellow!80!orange}\car{785}{570}{yellow!80!orange}
% magnifiers
\draw[orng,line width=.8pt] (660,420) -- (755,515);
\draw[orng,line width=.8pt] (1032,440) -- (1040,478);
\draw[orng,line width=1pt] (925,872) -- (820,870);
\draw[mag] (775,555) ellipse (35 and 50);
\draw[mag] (1043,535) ellipse (38 and 60);
\draw[mag] (785,867) ellipse (32 and 50);
\begin{scope}
 \clip (627,360) ellipse (45 and 72);
 \fill[lawn] (580,285) rectangle (675,435);
 \fill[road] (600,285) -- (660,285) -- (675,400) -- (640,435) -- cycle;
 \car{612}{335}{yellow!80!orange}\car{628}{352}{yellow!80!orange}\car{645}{380}{yellow!80!orange}
 \fill[brownf] (575,370) -- (610,400) -- (600,435) -- (575,435) -- cycle;
\end{scope}
\draw[mag] (627,360) ellipse (45 and 72);
\begin{scope}
 \clip (1002,355) ellipse (52 and 85);
 \fill[lawn] (950,270) rectangle (1055,440);
 \fill[grd] (950,270) rectangle (1000,330);
 \bld{1002}{385}{46}{45}{wblue}{wall}{walld}
 \win{1002}{385}{46}{45}{bwall}
 \bld{968}{410}{12}{22}{orng}{orng}{brownf}
\end{scope}
\draw[mag] (1002,355) ellipse (52 and 85);
\begin{scope}
 \clip (967,875) ellipse (45 and 70);
 \fill[lawn] (920,805) rectangle (1015,945);
 \fill[road] (920,880) -- (1015,960) -- (940,960) -- (920,930) -- cycle;
 \bld{945}{880}{11}{18}{orng}{orng}{brownf}\bld{965}{890}{11}{18}{orng}{orng}{brownf}\bld{988}{900}{11}{18}{orng}{orng}{brownf}
 \tr{955}{855}\tr{985}{870}
 \car{940}{925}{red!75!black}
\end{scope}
\draw[mag] (967,875) ellipse (45 and 70);
% tower
\coordinate (towt) at (1187,615);
\draw[tower,line width=.35pt] (1187,618) -- (1171,775) (1190,618) -- (1208,775)
 (1180,680) -- (1200,680) (1176,720) -- (1204,720) (1172,770) -- (1206,770)
 (1186,640) -- (1198,680) (1192,640) -- (1181,680) (1180,680) -- (1204,720) (1200,680) -- (1176,720) (1176,720) -- (1206,770) (1204,720) -- (1172,770)
 (1150,622) -- (1187,650) -- (1225,622) (1150,622) -- (1228,622) (1143,680) -- (1187,655) -- (1236,680) (1143,680) -- (1236,680)
 (1143,705) -- (1236,705) (1143,705) -- (1187,682) -- (1236,705);
% fig 1 labels
\bx{gdem}{767}{305}{934}{398}{goalbox}{Demonstrate the\\spread of CS fault}
\bx{gsim}{1003}{645}{1124}{740}{goalbox}{Simulate the\\EVCL}
\bx{gboo}{352}{849}{528}{942}{goalbox}{Boost simulation\\with parallelism}
\bx{gper}{720}{946}{854}{1040}{goalbox}{Perceive V2G\\influence}
\node[lab8] (lmic) at (520,360) {Microscopic\\Behavior};
\node[lab8] (lfast) at (1126,343) {Fast Charging\\Station};
\node[lab8] (lslow) at (977,998) {Slow Charging\\Station with V2G};
\node[lab8] (lpdn) at (1187,811) {PDN};
\coordinate (fcsin) at (1040,411);
\coordinate (scsin) at (1010,873);
\draw[black,line width=.5pt,->] (towt) |- (fcsin);
\draw[black,line width=.5pt,<->] (scsin) -| ([yshift=-2pt]lpdn.south);
\node[cap8] (cap1) at (129,1129) {Fig. 1.\hspace{.7em}Main goals of V2Sim};
% --- Fig 2 top
\bx{mutnp}{443}{1262}{1237}{1392}{pn,font=\fontsize{8.3}{10}\selectfont\bfseries}{MUTN Simulation Module}
\bx{decp}{443}{1482}{1237}{1786}{pn}{}
\node[bold10] (mutnt) at (369,1323) {MUTN\\[2.6pt]Subsystem};
% legend flows
\draw[black!65,line width=1pt] (308,1468) -- (346,1468);
\draw[black!35,line width=.9pt] (308,1520) -- (346,1520);
\node[lab7,anchor=west] (lgev) at (358,1468) {EV Flow};
\node[lab7,anchor=west] (lgin) at (358,1518) {Info Flow};
% decision nodes row
\hx{cssel}{453}{595}{1552}{CS Selection}
\bx{lbs}{709}{1520}{855}{1580}{gset}{Low Battery Set}
\hx{rp2}{922}{1062}{1552}{Route Planning}
\hx{cd}{1086}{1230}{1552}{Charging Decision}
\node[lab6] (lsf) at (483,1441) {Select FCS\\and depart};
\node[lab6] (ldd) at (588,1441) {Depart\\directly};
\node[lab6] (lod) at (663,1437) {Odometer};
\node[lab6] (llb) at (756,1439) {Low\\battery};
\node[lab6] (lch) at (878,1441) {Charge\\half-way};
\node[lab6] (lfi) at (1024,1443) {Finish\\charging};
\node[lab6] (lar) at (1121,1440) {Arrival};
\node[lab6] (llb2) at (656,1552) {Low\\battery};
\end{scope}
\begin{scope}[shift={(1850,600)},x=0.4pt,y=-0.25258pt]
\bx{ifp}{443}{238}{1237}{512}{pn}{}
% legend swatches
\bx{swm}{316}{38}{338}{65}{fill=panel}{}
\bx{swe}{317}{86}{337}{117}{fill=gfill,draw=gline,line width=.9pt}{}
\bx{swt}{316}{136}{338}{168}{fill=meter}{}
\fill[deci] (327,187) -- (338,197) -- (338,210) -- (327,220) -- (316,210) -- (316,197) -- cycle;
\bx{swi}{316}{287}{338}{318}{fill=iface}{}
\bx{swp}{316}{337}{338}{370}{fill=plug}{}
\node[lab7,anchor=west] (lg1) at (358,50) {Module};
\node[lab7,anchor=west] (lg2) at (358,100) {EV Set};
\node[lab7,anchor=west] (lg3) at (358,151) {Meter};
\node[lab7,anchor=west] (lg4) at (358,202) {Decision};
\node[lab7,anchor=west] (lg5) at (358,302) {Interface};
\node[lab7,anchor=west] (lg6) at (358,352) {Plugin};
% nodes
\hx{rp1}{453}{595}{95}{Route Planning}
\bx{fcs}{888}{52}{1032}{113}{gset}{FCS}
\bx{scs}{1086}{52}{1230}{113}{gset}{SCS}
\bx{soc}{655}{258}{741}{318}{mtr}{SoC}
\bx{evcl}{917}{260}{1003}{319}{mtr}{EVCL}
\bx{csq}{1019}{259}{1109}{317}{mtr}{CS Queue}
\bx{price}{1126}{259}{1213}{317}{mtr}{Price}
\bx{ro}{507}{384}{642}{473}{ifc}{Read-only\\Property}
\bx{wr}{665}{384}{800}{473}{ifc}{Writeable\\Property}
\bx{mp}{892}{384}{1027}{473}{plg}{More\\Plugins}
\bx{ps}{1047}{384}{1182}{473}{plg}{Power\\Simulation Part}
\node[bold8] (decl) at (831,192) {Decision Module};
\node[bold8] (ifl) at (830,291) {Interface Module};
\node[lab6] (lins) at (511,46) {Insufficient battery};
\node[lab6] (ltel) at (845,82) {Teleport\\with delay};
\node[lab6] (ldep) at (774,141) {Depart on time};
\node[lab7] (lg) at (575,588) {Logging results\\(Such as EVCL)};
\node[lab7] (ex) at (732,588) {Exchange data\\(Such as price)};
\node[lab7] (xp) at (960,585) {Extensible plugin\\system by Python};
\node[lab7] (tp) at (1115,585) {To PDN Simulation\\Subsystem};
\node[sub10] (suba) at (771,660) {(a) UTN Subsystem};
% connectors
\coordinate (dd) at (620,-176);
\coordinate (ch) at (909,-176);
\coordinate (dt) at (1158,158);
\coordinate (pr) at (1166,113);
\coordinate (j1) at (958,185);
\coordinate (j2) at (1166,185);
\coordinate (bl) at (546,350);
\coordinate (br) at (1169,350);
\draw[ev,->] (cssel.north) -- (cssel.north |- mutnp.south);
\draw[ev,->] (rp1.east) -| (dd);
\draw[ev,->] (rp1.north) -- (cssel.south);
\draw[ev,->] (cssel.east) -- (lbs.west);
\draw[info,->] (soc.north |- mutnp.south) -- (soc.north);
\draw[ev,->] (lbs.north |- mutnp.south) -- (lbs.north);
\draw[ev,->] (lbs.south) |- (fcs.west);
\draw[ev,->] (ch) -- (ch |- fcs.north);
\draw[ev,->] (rp2.south |- fcs.north) -- (rp2.south);
\draw[ev,->] (rp2.north) -- (rp2.north |- mutnp.south);
\draw[ev,->] (cd.north |- mutnp.south) -- (cd.north);
\draw[ev,->] (cd.south) -- (scs.north);
\draw[ev,->] (scs.south) -- (dt) -| (rp1.south);
\draw[info,->] (fcs.south) -- (evcl.north);
\draw[info,->] (pr) -- (pr |- price.north);
\draw[info] (j1) -- (j2);
\draw[info,->] (csq.north |- j1) -- (csq.north);
\draw[info] (bl) -- (br);
\draw[info,->] (bl) -- (bl |- rp1.south);
\draw[info,->] (ro.north |- bl) -- (ro.north);
\draw[info,->] (wr.north |- bl) -- (wr.north);
\draw[info,->] (soc.south |- bl) -- (soc.south);
\draw[info,<->] (evcl.south) -- (mp.north);
\draw[info,->] (csq.south |- bl) -- (csq.south);
\draw[info,->] (br) -- (br |- price.south);
\draw[info,->] (ps.north |- bl) -- (ps.north);
\draw[info,->] (ro.south) -- (lg.north);
\draw[info,<->] (wr.south) -- (ex.north);
\draw[info,<->] (mp.south) -- (xp.north);
\draw[info,<->] (ps.south) -- (tp.north);
% --- PDN subsystem
\bx{dispp}{474}{1088}{1007}{1237}{pn}{}
\bx{optp}{747}{891}{1007}{1045}{pn,font=\fontsize{7.4}{9.3}\selectfont}{{\fontsize{8.3}{10}\selectfont\bfseries PDN Optimizer}\\(Such as Gurobi)}
\node[lab7] (linp) at (560,752) {Input};
\bx{ev2}{490}{775}{631}{838}{iog}{EVCL \& SoC}
\bx{dist}{490}{856}{631}{919}{prs}{DistFlow}
\bx{volt}{490}{934}{631}{1000}{prs}{Voltage/Current\\Limit}
\bx{topo}{490}{1013}{631}{1077}{prs}{PDN Topology}
\bx{v2gc}{490}{1105}{631}{1168}{opr}{V2G Capacity}
\bx{det}{753}{1103}{1002}{1165}{opr}{Determine V2G Output}
\bx{ogoal}{1085}{891}{1225}{965}{prs}{Optimization\\Goal}
\node[lab7] (lout) at (1155,1014) {Output};
\bx{gen}{1085}{1037}{1225}{1100}{iog}{Generation Plan}
\node[bold10] (pdnt) at (874,815) {PDN Subsystem};
\node[bold8] (dispt) at (740,1207) {V2G Dispatcher};
\node[lab7] (lcon) at (696,948) {Constraints};
\bx{sm2}{319}{852}{341}{884}{fill=panel}{}
\bx{si2}{319}{902}{341}{932}{fill=iogreen}{}
\draw[black!45,line width=.7pt] (319,965) -- (343,965);
\bx{sp2}{319}{1000}{341}{1031}{fill=preset}{}
\bx{so2}{319}{1051}{341}{1083}{fill=oper}{}
\node[lab7,anchor=west] (lm1) at (351,864) {Module};
\node[lab7,anchor=west] (lm2) at (351,914) {I/O Data};
\node[lab7,anchor=west] (lm3) at (351,965) {Info Flow};
\node[lab7,anchor=west] (lm4) at (351,1016) {Presets};
\node[lab7,anchor=west] (lm5) at (351,1066) {Operation};
\coordinate (bt) at (646,806);
\coordinate (bb) at (877,1068);
\draw[pdnl,->] (ev2.west) -- ++(-24,0) |- (v2gc.west);
\draw[pdnl] (ev2.east) -- (bt) -- (bt |- v2gc.east) -- (v2gc.east);
\draw[pdnl] (dist.east) -- (dist.east -| bt);
\draw[pdnl] (topo.east) -- (topo.east -| bt);
\draw[pdnl,->] (volt.east) -- (volt.east -| optp.west);
\draw[pdnl,->] (ogoal.west) -- ++(-38,0) |- (optp.east);
\draw[pdnl,->] (optp.south -| bb) -- (bb |- det.north);
\draw[pdnl,->] (bb) -- (bb -| gen.west);
\draw[pdnl,->] (det.east) -| (gen.south);
\node[sub10] (subb) at (771,1278) {(b) PDN Subsystem};
\node[cap8] (cap2) at (129,1340) {Fig. 2.\hspace{.7em}Structure of V2Sim Platform. Consists of two subsystems connected by a plugin module.};
\end{scope}
\end{tikzpicture}
\end{document}
